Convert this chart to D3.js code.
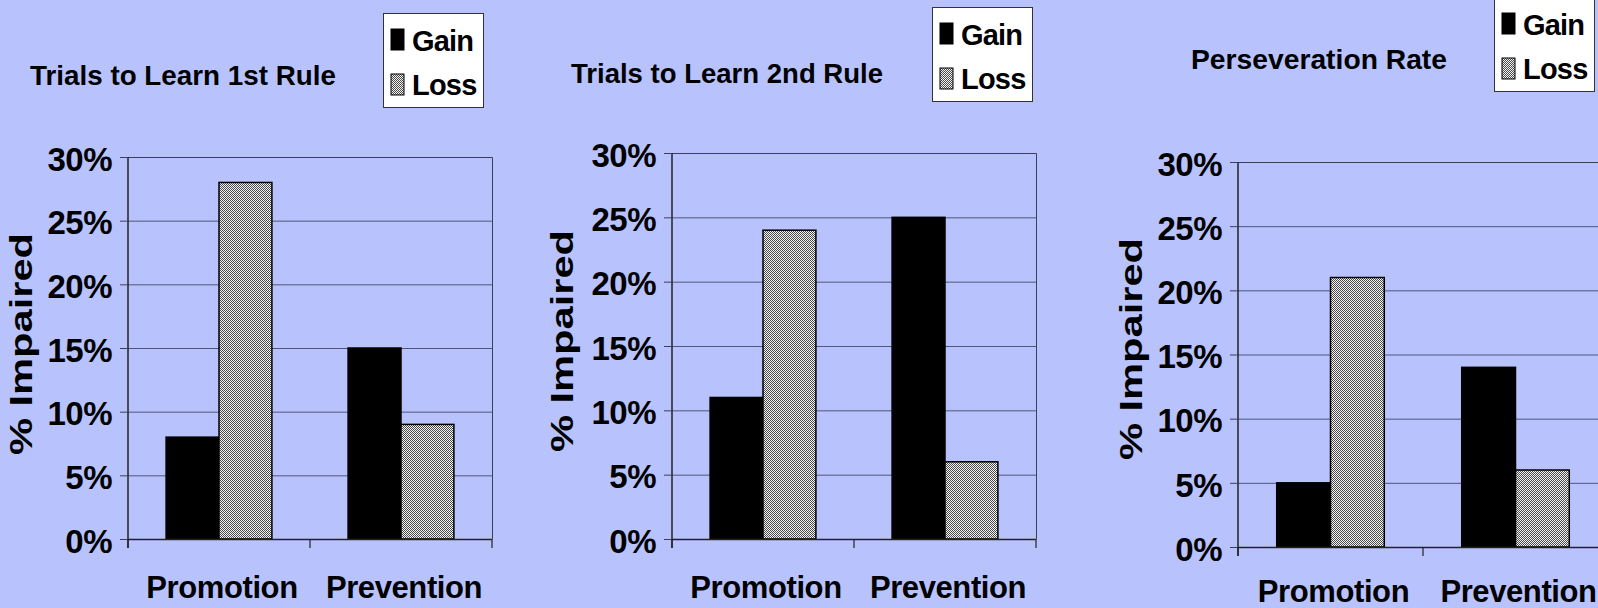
<!DOCTYPE html>
<html>
<head>
<meta charset="utf-8">
<script src="https://cdn.jsdelivr.net/npm/d3@7"></script>
<style>
  html, body { margin: 0; padding: 0; background: #b8c3fd; overflow: hidden; }
  svg { display: block; }
  text { font-family: "Liberation Sans", Arial, sans-serif; font-weight: bold; fill: #000; }
</style>
</head>
<body>
<svg id="chart" width="1598" height="608"></svg>
<script>
// Categories and series shared by all three panels
const categories = ["Promotion", "Prevention"];
const seriesNames = ["Gain", "Loss"];

// Percent of participants impaired, per panel
const firstRuleGain = [8, 15];
const firstRuleLoss = [28, 9];
const secondRuleGain = [11, 25];
const secondRuleLoss = [24, 6];
const perseverationGain = [5, 14];
const perseverationLoss = [21, 6];

// Panel titles and y-axis ticks
const panelTitles = ["Trials to Learn 1st Rule", "Trials to Learn 2nd Rule", "Perseveration Rate"];
const yTickValues = [0, 5, 10, 15, 20, 25, 30];
const yTickLabels = ["0%", "5%", "10%", "15%", "20%", "25%", "30%"];
const yAxisTitle = "% Impaired";

const panelValues = [
  [firstRuleGain, firstRuleLoss],
  [secondRuleGain, secondRuleLoss],
  [perseverationGain, perseverationLoss]
];

// Placement of each panel on the slide
const layout = [
  { left: 128, right: 492, top: 157, bottom: 539, labelY: 598, titleX: 30, titleY: 85, titleW: 306, legendX: 383, legendY: 13, yTitleX: 32, yTitleY: 344 },
  { left: 672, right: 1036, top: 153, bottom: 539, labelY: 598, titleX: 571, titleY: 83, titleW: 312, legendX: 932, legendY: 7, yTitleX: 573, yTitleY: 341 },
  { left: 1238, right: 1608, top: 162, bottom: 547, labelY: 602, titleX: 1191, titleY: 69, titleW: 256, legendX: 1494, legendY: -3, yTitleX: 1142, yTitleY: 349 }
];

const svg = d3.select("#chart");
const gridColor = "#50557a";

// Fine pixel-checker texture used for the Loss series
const defs = svg.append("defs");
const pat = defs.append("pattern")
  .attr("id", "hatch")
  .attr("patternUnits", "userSpaceOnUse")
  .attr("width", 2).attr("height", 2);
pat.append("rect").attr("width", 2).attr("height", 2).attr("fill", "#f4f4f4");
[[0,0],[1,1]].forEach(([px, py]) => {
  pat.append("rect").attr("x", px).attr("y", py).attr("width", 1).attr("height", 1).attr("fill", "#4a4a4a");
});

const fills = { Gain: "#000000", Loss: "url(#hatch)" };

layout.forEach((L, i) => {
  const g = svg.append("g");
  const [gainVals, lossVals] = panelValues[i];
  const rows = categories.map((c, k) => ({ category: c, Gain: gainVals[k], Loss: lossVals[k] }));

  const y = d3.scaleLinear().domain([0, 30]).range([L.bottom, L.top]);
  const x0 = d3.scaleBand().domain(categories).range([L.left, L.right]).padding(0);
  const x1 = d3.scaleBand().domain(seriesNames).range([0, x0.bandwidth()]).paddingInner(0).paddingOuter(0.72);

  // Gridlines
  g.append("g")
    .selectAll("line")
    .data(yTickValues.filter(v => v > 0 && v < 30))
    .join("line")
    .attr("x1", L.left).attr("x2", L.right)
    .attr("y1", d => y(d) + 0.5).attr("y2", d => y(d) + 0.5)
    .attr("stroke", gridColor).attr("stroke-width", 1);

  // Plot frame (top and right edges)
  g.append("path")
    .attr("d", `M${L.left},${y(30) + 0.5}H${L.right + 0.5}V${L.bottom}`)
    .attr("fill", "none").attr("stroke", "#3c3f5c").attr("stroke-width", 1);

  // Bars
  g.append("g")
    .selectAll("g")
    .data(rows)
    .join("g")
    .attr("transform", d => `translate(${x0(d.category)},0)`)
    .selectAll("rect")
    .data(d => seriesNames.map(s => ({ key: s, value: d[s] })))
    .join("rect")
    .attr("x", d => x1(d.key))
    .attr("y", d => y(d.value))
    .attr("width", x1.bandwidth())
    .attr("height", d => y(0) - y(d.value))
    .attr("fill", d => fills[d.key])
    .attr("stroke", "#000")
    .attr("stroke-width", 1.5);

  // Y axis
  const yAxis = d3.axisLeft(y)
    .tickValues(yTickValues)
    .tickSize(8)
    .tickPadding(8)
    .tickFormat((d, k) => yTickLabels[k]);
  const ya = g.append("g").attr("transform", `translate(${L.left},0)`).call(yAxis);
  ya.select(".domain").attr("stroke", "#222").attr("stroke-width", 1.5)
    .attr("d", `M0,${y(30)}V${L.bottom + 9}`);
  ya.selectAll(".tick line").attr("stroke", "#3c3f5c");
  ya.selectAll(".tick text")
    .attr("font-family", "'Liberation Sans', Arial, sans-serif")
    .attr("font-weight", "bold")
    .attr("font-size", 33)
    .attr("letter-spacing", -0.5)
    .attr("fill", "#000")
    .attr("dy", "0.4em");

  // X axis: baseline with ticks at the category boundaries
  g.append("line")
    .attr("x1", L.left).attr("x2", L.right)
    .attr("y1", L.bottom + 0.5).attr("y2", L.bottom + 0.5)
    .attr("stroke", "#222").attr("stroke-width", 1.5);
  const boundaries = [L.left, x0(categories[1]), L.right];
  g.append("g").selectAll("line")
    .data(boundaries)
    .join("line")
    .attr("x1", d => d).attr("x2", d => d)
    .attr("y1", L.bottom).attr("y2", L.bottom + 9)
    .attr("stroke", "#222").attr("stroke-width", 1.2);

  // Category labels
  g.append("g").selectAll("text")
    .data(categories)
    .join("text")
    .attr("x", d => x0(d) + x0.bandwidth() / 2 + 3)
    .attr("y", L.labelY)
    .attr("text-anchor", "middle")
    .attr("font-size", 31)
    .attr("letter-spacing", -0.4)
    .text(d => d);

  // Y axis title
  g.append("text")
    .attr("transform", `translate(${L.yTitleX},${L.yTitleY}) rotate(-90)`)
    .attr("text-anchor", "middle")
    .attr("font-size", 31)
    .attr("textLength", 222)
    .attr("lengthAdjust", "spacingAndGlyphs")
    .text(yAxisTitle);

  // Panel title
  g.append("text")
    .attr("x", L.titleX)
    .attr("y", L.titleY)
    .attr("font-size", 28)
    .attr("textLength", L.titleW)
    .attr("lengthAdjust", "spacingAndGlyphs")
    .text(panelTitles[i]);

  // Legend
  const lg = g.append("g").attr("transform", `translate(${L.legendX},${L.legendY})`);
  lg.append("rect")
    .attr("x", 0.5).attr("y", 0.5).attr("width", 100).attr("height", 94)
    .attr("fill", "#ffffff").attr("stroke", "#333").attr("stroke-width", 1);
  seriesNames.forEach((s, k) => {
    lg.append("rect")
      .attr("x", 8).attr("y", 16 + k * 45)
      .attr("width", 13).attr("height", 21)
      .attr("fill", fills[s]).attr("stroke", "#000").attr("stroke-width", 1);
    lg.append("text")
      .attr("x", 29).attr("y", 38 + k * 44)
      .attr("font-size", 29)
      .attr("letter-spacing", -0.8)
      .text(s);
  });
});
</script>
</body>
</html>
